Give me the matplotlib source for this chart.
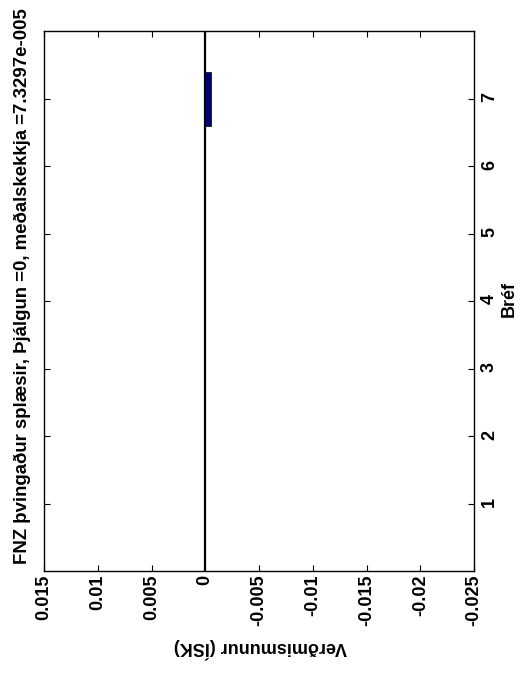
"""
plot.py -- rotated MATLAB-style bar chart of price differences per bond (Bréf).
The original figure was turned 90 degrees, so the bars run horizontally and all text is rotated.
"""
import numpy as np
import matplotlib
matplotlib.use("Agg")
import matplotlib.pyplot as plt

plt.rcParams["font.family"] = ["Liberation Sans", "DejaVu Sans"]
plt.rcParams["font.weight"] = "bold"

# --- data ---
bref = [1, 2, 3, 4, 5, 6, 7]                                  # bond index
verdmunur = [0.0, 0.0, 0.0, 0.0, 0.0, 0.0, -0.000513]         # price difference (ISK)
val_ticks = [0.015, 0.01, 0.005, 0, -0.005, -0.01, -0.015, -0.02, -0.025]
val_labels = ["0.015", "0.01", "0.005", "0", "-0.005", "-0.01", "-0.015", "-0.02", "-0.025"]
title = "FNZ þvingaður splæsir, Þjálgun =0, meðalskekkja =7.3297e-005"

W, H = 521, 674
fig = plt.figure(figsize=(W / 100, H / 100), dpi=100)
L, R, T, B = 44, 474, 31, 571
ax = fig.add_axes([L / W, 1 - B / H, (R - L) / W, (B - T) / H])

ax.barh(bref, verdmunur, height=0.8, color="#00007f", edgecolor="black", linewidth=0.5, zorder=2)
ax.axvline(0, color="black", lw=1.6, zorder=3)

ax.set_xlim(0.015, -0.025)
ax.set_ylim(0, 8)
ax.set_xticks(val_ticks)
ax.set_xticklabels(val_labels, rotation=90, fontsize=13, fontweight="bold")
ax.set_yticks(bref)
ax.set_yticklabels([str(b) for b in bref], rotation=90, fontsize=13, fontweight="bold")
for lab in ax.get_yticklabels():
    lab.set_va("center")
ax.tick_params(direction="in", length=4.5, width=0.8, top=True, right=True,
               labelleft=False, labelright=True)
ax.tick_params(axis="x", pad=2.5)
ax.tick_params(axis="y", pad=5)
for s in ax.spines.values():
    s.set_linewidth(1.0)

fig.text(22 / W, 1 - 286 / H, title, rotation=90, ha="center", va="center",
         fontsize=13.4, fontweight="bold")
fig.text(260 / W, 1 - 648 / H, "Verðmismunur (ÍSK)", rotation=180, ha="center", va="center",
         fontsize=13, fontweight="bold")
fig.text(509 / W, 1 - 299 / H, "Bréf", rotation=90, ha="center", va="center",
         fontsize=13, fontweight="bold")

fig.savefig("out.png", dpi=100)
